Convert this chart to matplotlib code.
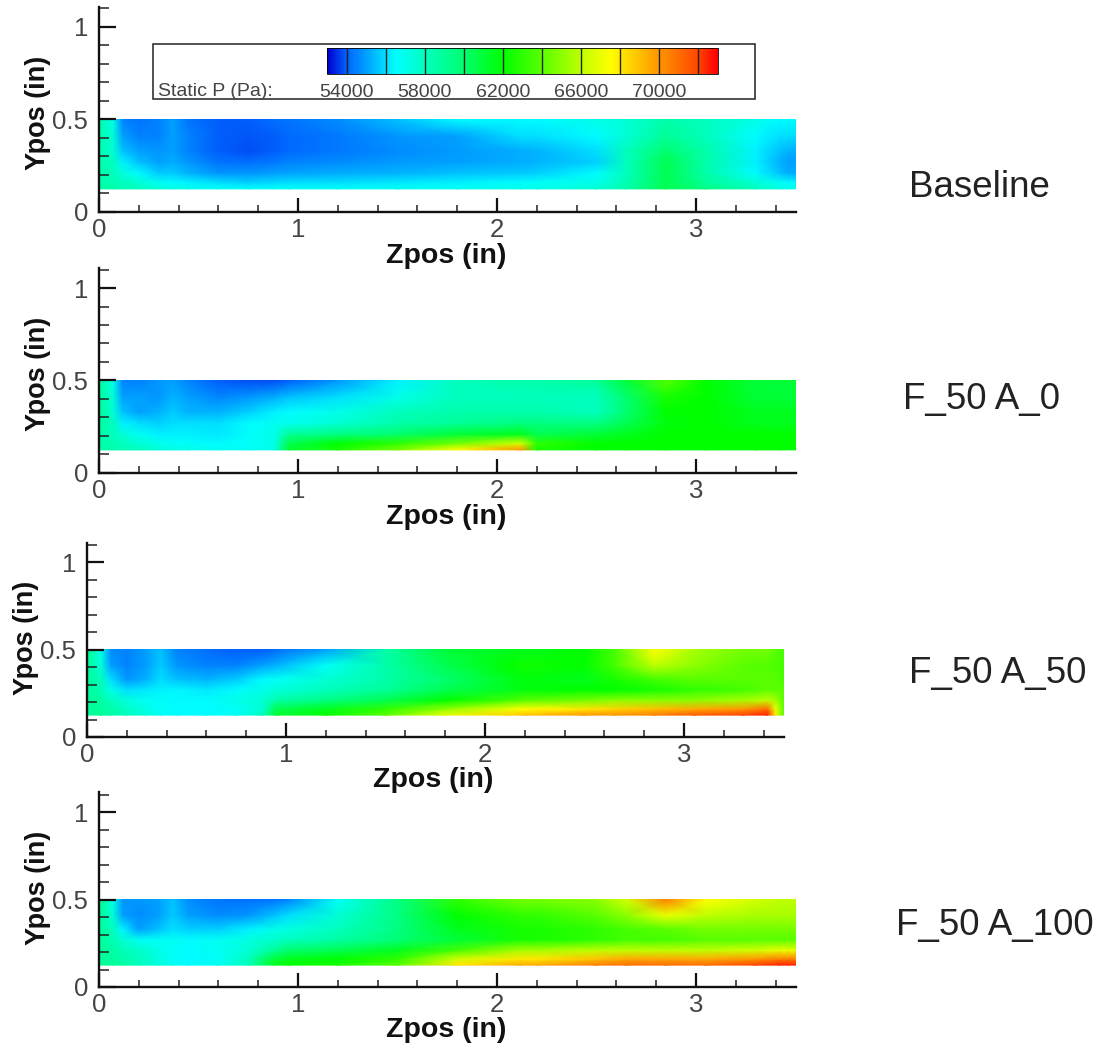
#static pressure maps for the four nozzle configurations, one shared colour scale
import numpy as np
import matplotlib
matplotlib.use("Agg")
import matplotlib.pyplot as plt
import matplotlib.cm as cm
from matplotlib.colors import LinearSegmentedColormap, Normalize
from matplotlib.patches import Rectangle
from matplotlib.ticker import MultipleLocator

plt.rcParams['font.family'] = ['Liberation Sans', 'DejaVu Sans']

W, H = 1102, 1044

zpos = [0, .07, .12, .2, .3, .37, .45, .6, .75, .88, .95, 1.2, 1.5, 1.8, 2.12, 2.2, 2.5, 2.65, 2.85, 3.05, 3.3, 3.42, 3.46, 3.5]
ypos = [.125, .16, .21, .27, .33, .41, .5]

#pressures in kPa, bottom row first
baseline = [
	[58.5, 58.5, 58.3, 58, 57.5, 57.2, 57, 56.7, 56.6, 56.6, 56.7, 56.7, 56.8, 56.9, 57, 57, 57.5, 58.5, 60.5, 59.5, 58, 57.2, 57, 57],
	[58.5, 58.3, 58, 57.5, 56.8, 56.5, 56.3, 56, 55.8, 55.9, 56, 56, 56.2, 56.3, 56.5, 56.6, 57, 58.3, 60.5, 59, 57.5, 56.7, 56.5, 56.5],
	[58.5, 58, 57.3, 56.5, 55.7, 55.7, 55.3, 54.8, 54.8, 55, 55.1, 55.2, 55.3, 55.5, 55.7, 55.8, 56.5, 58, 60.5, 58.5, 56.5, 55.5, 55.2, 55.2],
	[58.5, 58, 56.3, 55.5, 55, 55.2, 54.8, 54.3, 54.2, 54.4, 54.5, 54.7, 54.9, 55, 55.2, 55.3, 55.8, 58, 60.5, 58.5, 56.3, 55.3, 55, 55],
	[58.5, 57.5, 55.5, 55, 54.8, 55, 54.5, 54, 53.8, 54, 54.1, 54.4, 54.7, 54.9, 55.2, 55.3, 56, 58, 60, 58.5, 56.3, 55.5, 55.3, 55.2],
	[58.5, 57.5, 55, 54.5, 54.5, 55, 54.5, 54, 53.9, 54, 54.1, 54.4, 54.8, 55, 56, 56, 56.5, 57.5, 59, 58, 56.5, 56, 56, 56],
	[58.5, 57, 54.5, 54.3, 54.5, 55, 54.3, 54, 54, 54.2, 54.3, 54.7, 55.5, 56.5, 56.5, 56.5, 57, 57.5, 58.5, 58, 57, 56.5, 56.5, 56.5],
]
f50_a0 = [
	[58.5, 58.5, 58.3, 58, 57.5, 57.2, 57, 56.8, 56.7, 57, 61, 62.5, 64.5, 67.5, 70, 62.5, 62, 62, 62, 62, 62, 62, 62, 62],
	[58.5, 58.3, 58, 57.5, 57, 56.7, 56.6, 56.5, 56.6, 57, 60.5, 62, 63, 64.5, 66.5, 63, 62, 62, 62, 62, 62, 62, 62, 62],
	[58.5, 58, 57.5, 56.8, 56.3, 56.3, 56.3, 56.2, 56.6, 57, 59, 59.5, 60, 61, 61.5, 60.5, 61, 61.5, 62, 62, 62, 62, 62, 62],
	[58.8, 58, 56.3, 56, 55.8, 56, 56, 56, 56.5, 56.8, 56.9, 57.5, 58.5, 59, 59.5, 59.5, 59.5, 60.5, 61.8, 62, 61.5, 61.5, 61.5, 61.5],
	[59, 57.5, 55.5, 55, 55.3, 55.7, 55.3, 55.3, 55.8, 56.3, 56.5, 57, 58, 58.5, 58.5, 58.5, 58, 60, 62, 62, 61.5, 61.5, 61.5, 61.5],
	[59, 57.5, 55, 55, 54.8, 55.3, 55, 54.6, 54.8, 55.2, 55.5, 56, 57, 58, 58, 58, 58, 60, 62.5, 62, 61, 61, 61, 61],
	[59, 57, 54.5, 54.5, 54.8, 55, 54.5, 54, 53.8, 53.8, 54, 54.8, 56.3, 58, 58.5, 58.5, 59, 61, 63.8, 62, 61, 61, 61, 61],
]
f50_a50 = [
	[59, 59, 58.7, 58, 57.3, 56.8, 56.5, 56.5, 56.8, 58, 61, 62, 64, 67, 68.5, 69, 70, 70, 70.5, 71.5, 72, 72.5, 68, 64],
	[59, 58.8, 58.5, 57.8, 57, 56.6, 56.5, 56.5, 56.7, 57.5, 60.5, 61.5, 63, 65, 67, 67.5, 68, 68.5, 69, 69.5, 70, 71, 67, 64],
	[59, 58.7, 58, 57.3, 56.8, 56.6, 56.5, 56.5, 57, 57.5, 58.5, 59.5, 60.5, 62, 63.5, 64, 64.5, 65, 65, 65, 65.5, 66, 65.5, 64],
	[59, 58.3, 57, 56, 56.2, 56.3, 56.4, 56.2, 56.5, 57, 57.3, 58, 59, 60.5, 61.5, 61.8, 62, 62, 62.5, 63, 63.5, 64, 64, 64],
	[59, 58, 56, 54.8, 55.3, 56, 55.5, 55.3, 55.7, 56.5, 56.7, 57.5, 58.5, 60, 61.5, 61.8, 61.5, 62.5, 63.5, 64, 64, 64, 64, 63.5],
	[59, 57.3, 55, 54.5, 55, 55.7, 54.8, 54.5, 54.5, 55, 55.3, 56.7, 58.5, 60.5, 62, 62.3, 62, 63.5, 66, 65, 64, 63.8, 63.7, 63.5],
	[59.5, 57, 54.7, 54.5, 55, 55.5, 54.5, 54.2, 54, 54, 54.1, 55, 58.5, 61, 61.5, 61.5, 62, 63.5, 67.5, 65.5, 64.5, 64.5, 64, 63.5],
]
f50_a100 = [
	[59, 59, 58.7, 58, 57.3, 56.8, 56.5, 56.8, 58, 61.5, 62, 62.5, 64, 68, 69.5, 69.5, 70.5, 71, 71, 71, 72, 72.5, 72.5, 72.5],
	[59, 58.8, 58.5, 58, 57.2, 56.7, 56.5, 56.7, 58, 61, 61.5, 62, 63, 66.5, 68, 68, 69, 69.5, 69.5, 69.5, 70, 70.5, 70.5, 70.5],
	[59, 58.7, 58.2, 57.7, 57, 56.7, 56.5, 56.8, 57.5, 59, 60, 60.5, 61.5, 63.5, 65.5, 65.5, 66, 66, 66, 66, 66.5, 67, 67, 67],
	[59, 58.3, 57.5, 56.8, 56.7, 56.8, 56.5, 56.8, 57.2, 57.7, 58, 58.7, 59.8, 61, 62.5, 62.5, 63, 63.5, 63.5, 64, 64, 64, 64, 64],
	[59, 58, 56.3, 55, 55.5, 56, 55.8, 55.8, 56.3, 57, 57.2, 58, 59.5, 61.5, 62.5, 62.5, 63, 63.5, 64, 64.5, 64.5, 64.5, 64.5, 64.5],
	[59, 57.5, 55, 54.7, 55, 55.7, 55, 54.7, 54.8, 55.5, 56, 57.5, 59.5, 62, 63, 63, 64, 65, 67, 66, 65.5, 65.5, 65.5, 65.5],
	[59.5, 57, 54.8, 54.8, 55, 55.5, 54.7, 54.3, 54.2, 54.3, 54.5, 56.7, 59.5, 63, 64.5, 64.5, 65, 66.5, 70.5, 67.5, 66.5, 66, 66, 66],
]

panels = [baseline, f50_a0, f50_a50, f50_a100]
names = ["Baseline", "F_50 A_0", "F_50 A_50", "F_50 A_100"]
name_pos = [(909, 187), (903, 399), (909, 674), (896, 926)]

#axes in pixels: left edge, pixel of y=0, pixel of y=1, top of the axis
boxes = [(99, 212, 27, 7), (99, 473, 288, 268), (87, 737, 562, 543), (99, 987, 812, 792)]
xlabel_pos = [(446, 256), (446, 517), (433, 780), (446, 1030)]
ylabel_x = [38, 38, 26, 38]
px_per_in = 199

legend_levels = np.arange(54000, 74000, 2000)
legend_labels = [54000, 58000, 62000, 66000, 70000]

#colours, Pa
cmap_levels = [53000, 54000, 56000, 56500, 58000, 60000, 62000, 64000, 66000, 67500, 70000, 72000, 73000]
cmap_colors = ["#0000d0", "#0064ff", "#00e0ff", "#00ffff", "#00ffbe", "#00ff6e", "#00ff00", "#5aff00",
	"#beff00", "#ffff00", "#ff9600", "#ff4600", "#ff0000"]

norm = Normalize(vmin=53000, vmax=73000)
cmap = LinearSegmentedColormap.from_list("legendbar", [(float(norm(v)), c) for v, c in zip(cmap_levels, cmap_colors)])

fig = plt.figure(figsize=(W / 100, H / 100), dpi=100)


def add_axes_px(left, top, width, height):
	return fig.add_axes([left / W, 1 - (top + height) / H, width / W, height / H])


for i in range(4):
	left, y0, y1, top = boxes[i]
	per_unit = y0 - y1
	ax = add_axes_px(left, top, 3.5 * px_per_in, y0 - top)
	ax.patch.set_alpha(0)
	ax.pcolormesh(zpos, ypos, np.array(panels[i]) * 1000, shading='gouraud', cmap=cmap, norm=norm)
	ax.set_xlim(0, 3.5)
	ax.set_ylim(0, (y0 - top) / per_unit)
	for s in ['top', 'right']:
		ax.spines[s].set_visible(False)
	for s in ['left', 'bottom']:
		ax.spines[s].set_linewidth(1.7)
		ax.spines[s].set_color('#111111')
	ax.xaxis.set_minor_locator(MultipleLocator(0.2))
	ax.yaxis.set_minor_locator(MultipleLocator(0.1))
	ax.set_xticks([0, 1, 2, 3])
	ax.set_xticklabels(['0', '1', '2', '3'])
	ax.set_yticks([0, 0.5, 1])
	ax.set_yticklabels(['0', '0.5', '1'])
	ax.tick_params(which='major', direction='in', width=1.6, color='#111111', labelsize=18.5, labelcolor='#444444')
	ax.tick_params(which='minor', direction='in', width=1.1, color='#222222')
	ax.tick_params(axis='x', which='major', length=10, pad=4)
	ax.tick_params(axis='x', which='minor', length=5)
	ax.tick_params(axis='y', which='major', length=12, pad=8)
	ax.tick_params(axis='y', which='minor', length=7)

	lx, ly = xlabel_pos[i]
	fig.text(lx / W, 1 - ly / H, "Zpos (in)", fontsize=20.5, fontweight='bold', color='#111111', ha='center', va='center')
	fig.text(ylabel_x[i] / W, 1 - (y0 - 99) / H, "Ypos (in)", fontsize=19.5, fontweight='bold', color='#111111',
		rotation=90, ha='center', va='center')

	nx, ny = name_pos[i]
	fig.text(nx / W, 1 - ny / H, names[i], fontsize=26.5, color='#222222', ha='left', va='center')

#legend box of the top panel
fig.add_artist(Rectangle((153 / W, 1 - 99 / H), 602 / W, 55 / H, transform=fig.transFigure,
	facecolor='white', edgecolor='#222222', linewidth=1.1, zorder=3))
cax = add_axes_px(327, 48, 391, 26)
cax.set_zorder(5)
cb = fig.colorbar(cm.ScalarMappable(norm=norm, cmap=cmap), cax=cax, orientation='horizontal')
cb.outline.set_linewidth(0.6)
cb.set_ticks(legend_labels)
cb.set_ticklabels([str(v) for v in legend_labels])
cb.ax.tick_params(length=0, labelsize=14, labelcolor='#444444', pad=7)
cb.ax.vlines(legend_levels, 0, 1, transform=cb.ax.get_xaxis_transform(), color='#222222', linewidth=1)
fig.text(158 / W, 1 - 91 / H, "Static P (Pa):", fontsize=14, color='#444444', ha='left', va='center', zorder=6)

fig.savefig("out.png", dpi=100)
